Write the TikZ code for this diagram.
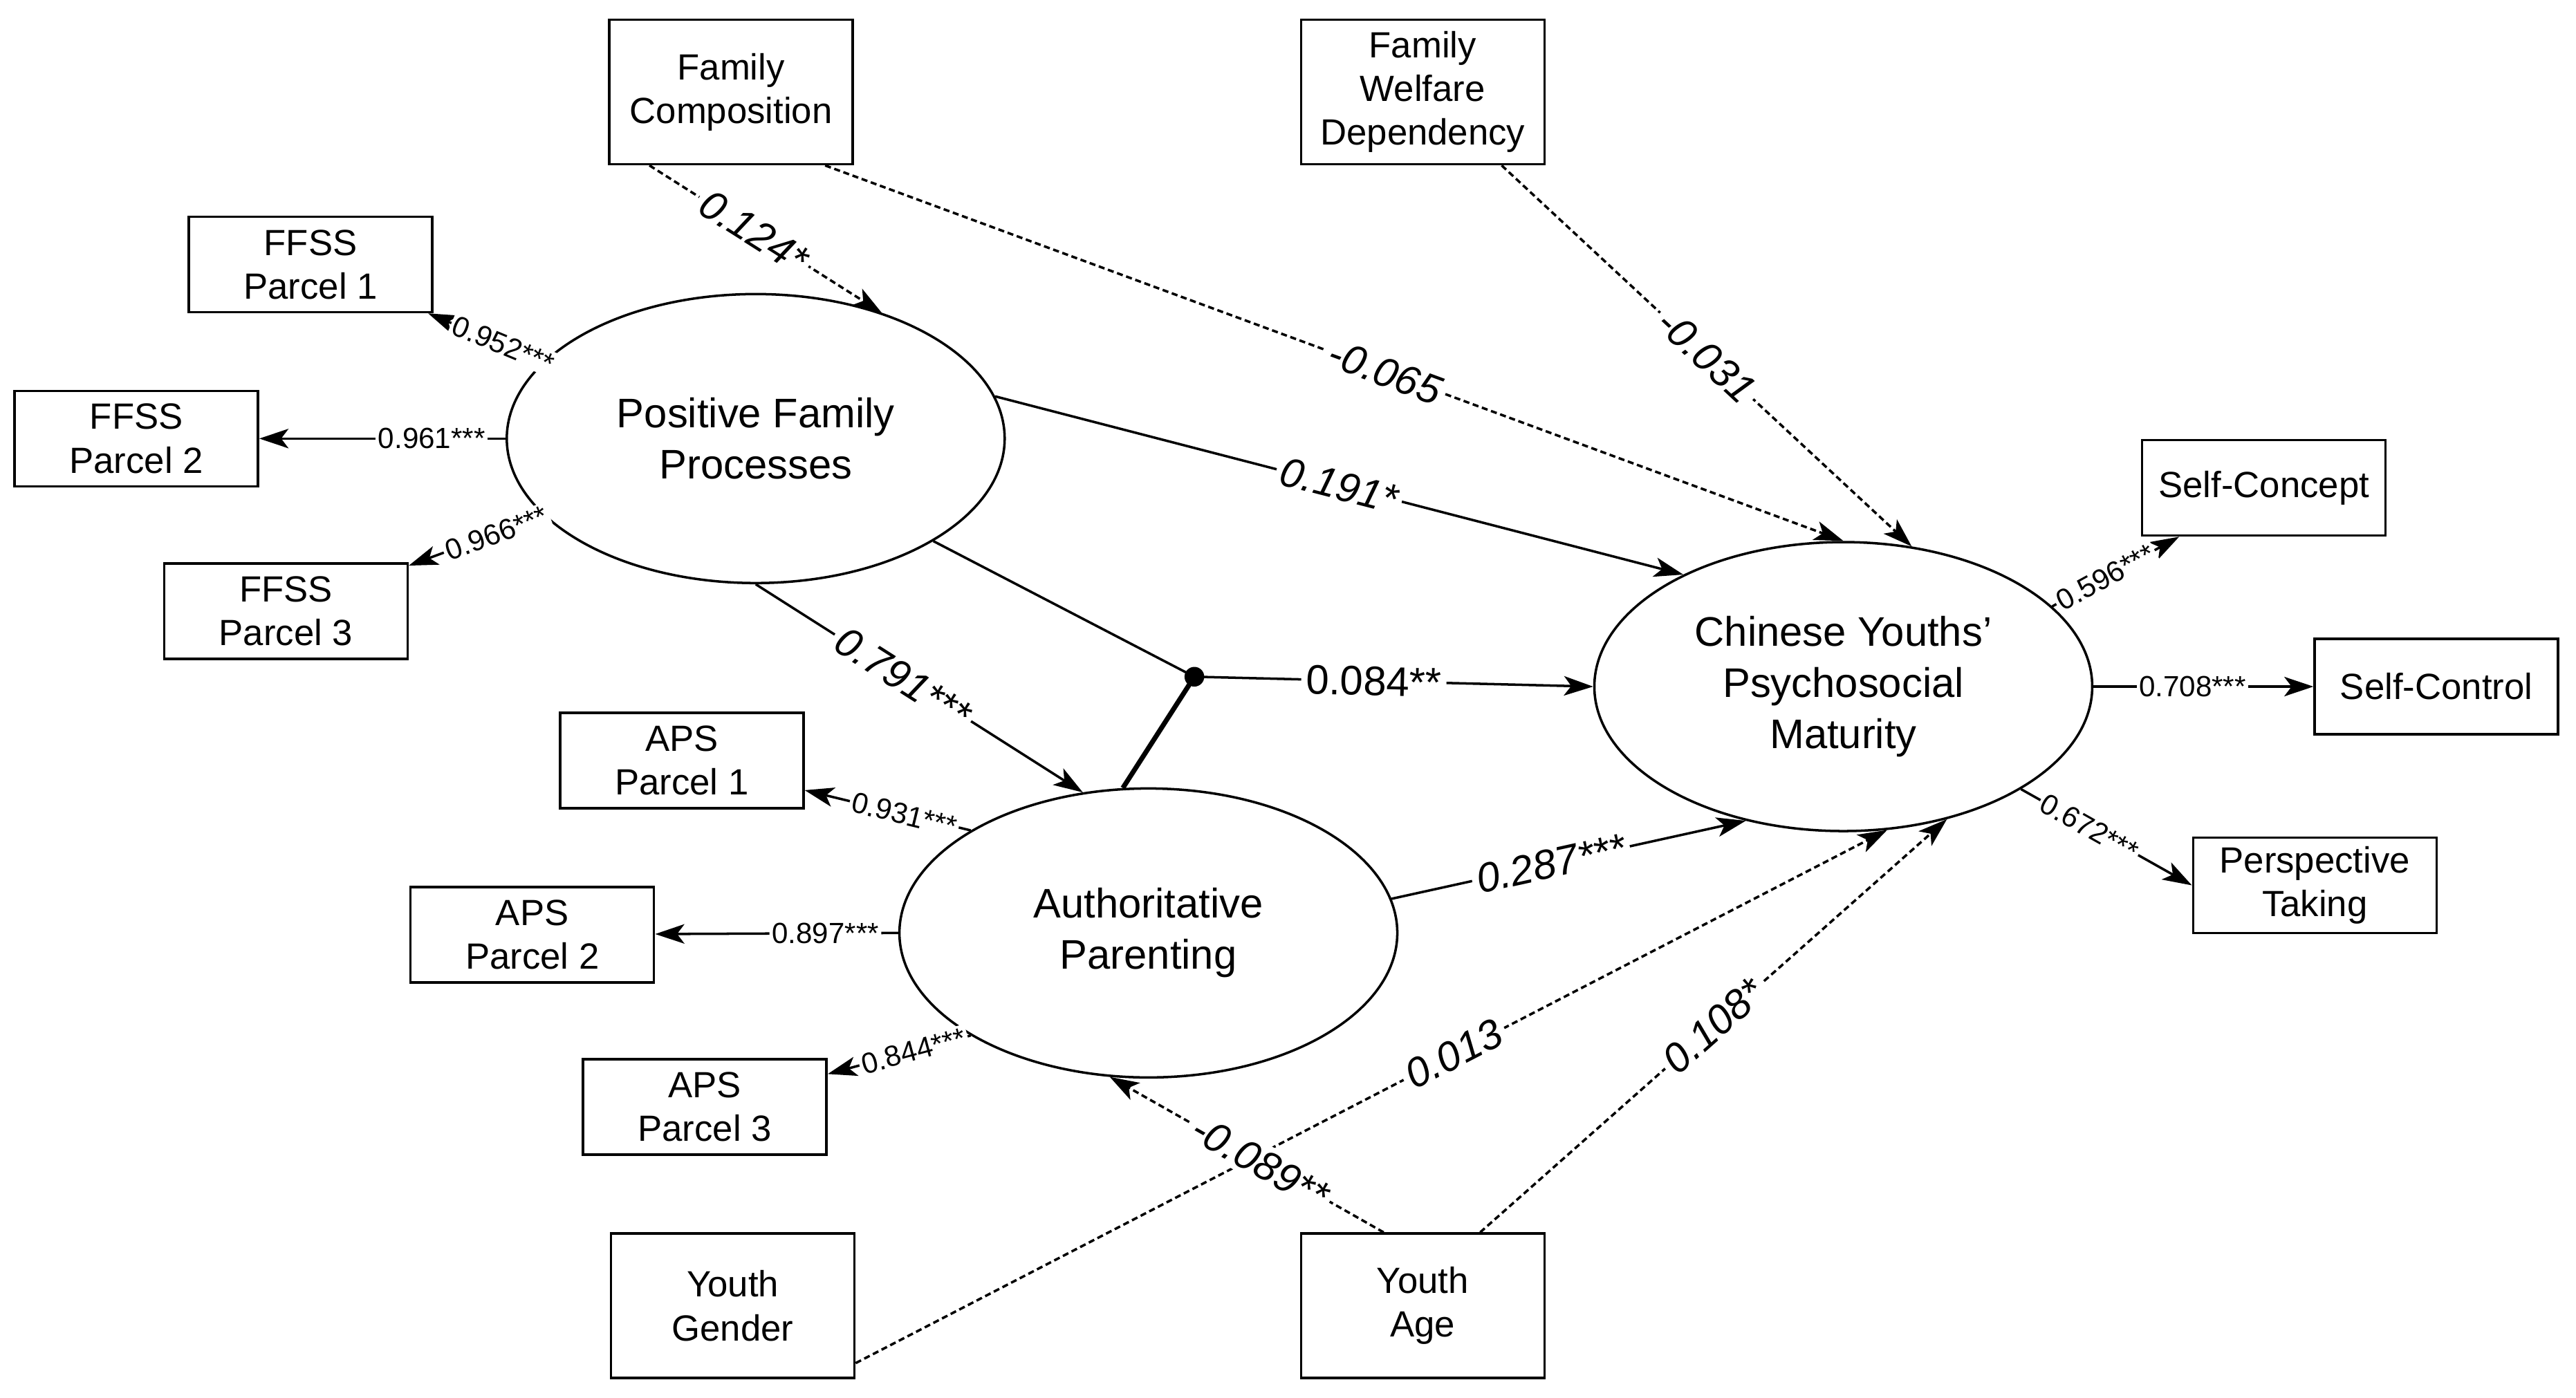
\documentclass[tikz,border=0pt]{standalone}
\usepackage{fontspec}
\setmainfont{Liberation Sans}
\usetikzlibrary{arrows.meta,shapes.geometric}
\begin{document}
\begin{tikzpicture}[x=0.02376cm,y=-0.02376cm,
  box/.style={draw,line width=1pt,minimum width=3.52cm,minimum height=1.38cm,align=center,font=\fontsize{15}{18}\selectfont,inner sep=2pt},
  tbox/.style={box,minimum height=2.09cm},
  lat/.style={draw,ellipse,line width=1pt,minimum width=7.2cm,minimum height=4.18cm,align=center,font=\fontsize{17}{21}\selectfont},
  arr/.style={line width=1pt,-{Stealth[length=12pt,width=8pt,inset=3pt]}},
  dsh/.style={arr,dash pattern=on 2.5pt off 1.5pt},
  sl/.style={sloped,fill=white,inner sep=1pt,font=\fontsize{12}{14}\selectfont},
  bl/.style={sloped,fill=white,inner sep=2pt,font=\fontsize{17}{20}\selectfont}]
\useasboundingbox (0,0) rectangle (1568,851);
\node[tbox] (fc) at (445,56) {Family\\Composition};
\node[tbox] (fwd) at (866,56) {Family\\Welfare\\Dependency};
\node[box] (f1) at (189,161) {FFSS\\Parcel 1};
\node[box] (f2) at (83,267) {FFSS\\Parcel 2};
\node[box] (f3) at (174,372) {FFSS\\Parcel 3};
\node[box] (a1) at (415,463) {APS\\Parcel 1};
\node[box] (a2) at (324,569) {APS\\Parcel 2};
\node[box] (a3) at (429,674) {APS\\Parcel 3};
\node[box] (sc) at (1378,297) {Self-Concept};
\node[box] (sco) at (1483,418) {Self-Control};
\node[box] (pt) at (1409,539) {Perspective\\Taking};
\node[tbox] (yg) at (446,795) {Youth\\Gender};
\node[tbox] (ya) at (866,795) {Youth\\Age};
\node[lat] (pfp) at (460,267) {Positive Family\\Processes};
\node[lat] (ap) at (699,568) {Authoritative\\Parenting};
\node[lat] (cy) at (1122,418) {Chinese Youths'\\Psychosocial\\Maturity};
\coordinate (dot) at (727,412);
\fill (dot) circle (6);
% loadings
\draw[arr] (pfp.160) -- node[sl,pos=0.35]{0.952***} (f1);
\draw[arr] (pfp.west) -- node[sl,pos=0.3]{0.961***} (f2);
\draw[arr] (pfp.200) -- node[sl,pos=0.35]{0.966***} (f3);
\draw[arr] (ap.150) -- node[sl,pos=0.4]{0.931***} (a1);
\draw[arr] (ap.west) -- node[sl,pos=0.3]{0.897***} (a2);
\draw[arr] (ap.210) -- node[sl,pos=0.4]{0.844***} (a3);
\draw[arr] (cy.21) -- node[sl,pos=0.42]{0.596***} (sc.210);
\draw[arr] (cy.east) -- node[sl,pos=0.45]{0.708***} (sco);
\draw[arr] (cy.330) -- node[sl,pos=0.4]{0.672***} (pt.west);
% structural
\draw[dsh] (fc.222) -- node[bl,pos=0.45]{\itshape 0.124*} (pfp.45);
\draw[dsh] (fc.322) -- node[bl,pos=0.55]{\itshape -0.065} (cy.90);
\draw[dsh] (fwd) -- node[bl,pos=0.5]{\itshape -0.031} (cy.64);
\draw[arr] (pfp.10) -- node[bl,pos=0.5]{\itshape 0.191*} (cy.145);
\draw[line width=1pt] (pfp.330) -- (dot);
\draw[line width=2pt] (ap.100) -- (dot);
\draw[arr] (dot) -- node[bl,pos=0.45]{0.084**} (cy.west);
\draw[arr] (pfp.270) -- node[bl,pos=0.45]{\itshape 0.791***} (ap.115);
\draw[arr] (ap.8) -- node[bl,pos=0.45]{\itshape 0.287***} (cy.234);
\draw[dsh] (yg.335) -- node[bl,pos=0.58]{\itshape 0.013} (cy.287);
\draw[dsh] (ya.52) -- node[bl,pos=0.5]{\itshape 0.108*} (cy.308);
\draw[dsh] (ya.118) -- node[bl,pos=0.45]{\itshape -0.089**} (ap.255);
\end{tikzpicture}
\end{document}
